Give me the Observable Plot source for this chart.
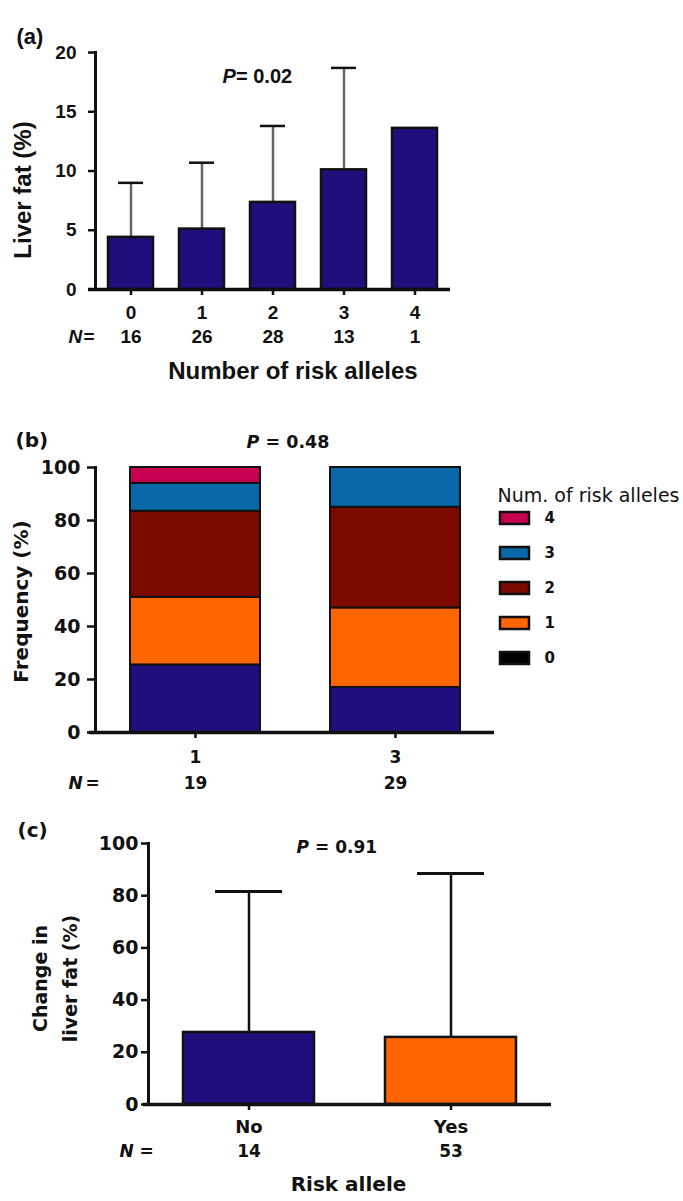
<!DOCTYPE html>
<html>
<head>
<meta charset="utf-8">
<script src="https://cdn.jsdelivr.net/npm/d3@7"></script>
<script src="https://cdn.jsdelivr.net/npm/@observablehq/plot@0.6"></script>
<style>
  body { margin: 0; background: #fff; }
  #wrap { position: relative; width: 683px; height: 1201px; overflow: hidden; background: #fff; }
  #wrap svg { display: block; }
  #legend { position: absolute; left: 490px; top: 470px; }
</style>
</head>
<body>
<div id="wrap"></div>
<script>
// ---------- data ----------
// (a) liver fat by number of risk alleles
const allelesA = ["0", "1", "2", "3", "4"];
const liverFatMean = [4.4, 5.1, 7.35, 10.1, 13.6];
const liverFatSD = [4.6, 5.6, 6.45, 8.6, null];
const nA = [16, 26, 28, 13, 1];
const yTicksA = [0, 5, 10, 15, 20];

// (b) frequency of risk alleles by group
const groupsB = ["1", "3"];
const nB = [19, 29];
const riskCats = ["0", "1", "2", "3", "4"];
const legendOrder = ["4", "3", "2", "1", "0"];
const freqGroup1 = [25.5, 25.5, 32.5, 10.5, 6];
const freqGroup3 = [17, 30, 38, 15, 0];
const yTicksB = [0, 20, 40, 60, 80, 100];

// (c) change in liver fat by risk allele
const groupsC = ["No", "Yes"];
const changeMean = [27.6, 25.7];
const changeSD = [54, 62.8];
const nC = [14, 53];
const yTicksC = [0, 20, 40, 60, 80, 100];

// ---------- styles ----------
const INK = "#111";
const NAVY = "#1e0f7d";
const ORANGE = "#ff6600";
const DARKRED = "#7d0a00";
const BLUE = "#0868a8";
const PINK = "#c70052";
const barColors = [NAVY, ORANGE, DARKRED, BLUE, PINK];
const legendColors = ["#000000", ORANGE, DARKRED, BLUE, PINK];
const ARIAL = "'Liberation Sans', Arial, sans-serif";
const DEJAVU = "'DejaVu Sans', sans-serif";

const wrap = document.getElementById("wrap");

// ---------- panel (a) ----------
const tableA = allelesA.map((k, i) => ({k, mean: liverFatMean[i], sd: liverFatSD[i], n: nA[i]}));
const errA = tableA.filter(d => d.sd != null);

const A = Plot.plot({
  width: 683, height: 390,
  marginLeft: 95, marginRight: 233, marginTop: 52, marginBottom: 101,
  style: {fontFamily: ARIAL, color: INK, background: "white", overflow: "visible"},
  x: {type: "band", domain: allelesA, paddingInner: 0.36, paddingOuter: 0.18},
  y: {domain: [0, 20]},
  marks: [
    Plot.ruleX(errA, {x: "k", y1: "mean", y2: d => d.mean + d.sd, stroke: "#666", strokeWidth: 2.5}),
    Plot.tickY(errA, {x: "k", y: d => d.mean + d.sd, stroke: INK, strokeWidth: 2.5, insetLeft: 10, insetRight: 10}),
    Plot.barY(tableA, {x: "k", y: "mean", fill: NAVY, stroke: INK, strokeWidth: 2.5}),
    Plot.frame({anchor: "left", stroke: INK, strokeWidth: 3}),
    Plot.ruleY([0], {stroke: INK, strokeWidth: 3.5, insetLeft: -7}),
    Plot.axisY({ticks: yTicksA, tickSize: 7, tickPadding: 12, fontSize: 19, fontWeight: "bold", strokeWidth: 2.5, label: null}),
    Plot.axisX({tickSize: 6, tickPadding: 10, fontSize: 19, fontWeight: "bold", strokeWidth: 2.5, label: null}),
    Plot.text(tableA, {x: "k", text: d => String(d.n), frameAnchor: "bottom", dy: 53, fontSize: 19, fontWeight: "bold"}),
    Plot.text(["N"], {frameAnchor: "bottom-left", dx: -27, dy: 53, textAnchor: "start", fontSize: 19, fontWeight: "bold", fontStyle: "italic"}),
    Plot.text(["="], {frameAnchor: "bottom-left", dx: -12, dy: 53, textAnchor: "start", fontSize: 19, fontWeight: "bold"}),
    Plot.text(["Number of risk alleles"], {frameAnchor: "bottom", dx: 20, dy: 89, fontSize: 24, fontWeight: "bold"}),
    Plot.text(["Liver fat (%)"], {frameAnchor: "left", dx: -72, dy: 19, rotate: -90, textAnchor: "middle", fontSize: 24, fontWeight: "bold"}),
    Plot.text(["(a)"], {frameAnchor: "top-left", dx: -79, dy: -24, textAnchor: "start", fontSize: 22, fontWeight: "bold"}),
    Plot.text(["P"], {frameAnchor: "top-left", dx: 127, dy: 16, textAnchor: "start", fontSize: 20, fontWeight: "bold", fontStyle: "italic"}),
    Plot.text(["= 0.02"], {frameAnchor: "top-left", dx: 140.5, dy: 16, textAnchor: "start", fontSize: 20, fontWeight: "bold"})
  ]
});
wrap.appendChild(A);

// ---------- panel (b) ----------
const freqByGroup = {"1": freqGroup1, "3": freqGroup3};
const tableB = [];
groupsB.forEach(g => riskCats.forEach((c, j) => {
  const v = freqByGroup[g][j];
  if (v > 0) tableB.push({g, c, v});
}));
const nTableB = groupsB.map((g, i) => ({g, n: nB[i]}));

const B = Plot.plot({
  width: 683, height: 420,
  marginLeft: 95, marginRight: 189, marginTop: 77, marginBottom: 78,
  style: {fontFamily: DEJAVU, color: INK, background: "white", overflow: "visible"},
  x: {type: "band", domain: groupsB, paddingInner: 0.35, paddingOuter: 0.17},
  y: {domain: [0, 100]},
  color: {domain: riskCats, range: barColors},
  marks: [
    Plot.barY(tableB, {x: "g", y: "v", fill: "c", stroke: INK, strokeWidth: 2}),
    Plot.frame({anchor: "left", stroke: INK, strokeWidth: 3}),
    Plot.ruleY([0], {stroke: INK, strokeWidth: 3.5, insetLeft: -6}),
    Plot.axisY({ticks: yTicksB, tickSize: 8, tickPadding: 7, fontSize: 19, fontWeight: "bold", strokeWidth: 2.5, label: null}),
    Plot.axisX({tickSize: 6, tickPadding: 12, fontSize: 17, fontWeight: "bold", strokeWidth: 2.5, label: null}),
    Plot.text(nTableB, {x: "g", text: d => String(d.n), frameAnchor: "bottom", dy: 56, fontSize: 17, fontWeight: "bold"}),
    Plot.text(["N"], {frameAnchor: "bottom-left", dx: -27, dy: 56, textAnchor: "start", fontSize: 17, fontWeight: "bold", fontStyle: "italic"}),
    Plot.text(["="], {frameAnchor: "bottom-left", dx: -10, dy: 56, textAnchor: "start", fontSize: 17, fontWeight: "bold"}),
    Plot.text(["Frequency (%)"], {frameAnchor: "left", dx: -74, dy: 1.5, rotate: -90, textAnchor: "middle", fontSize: 20, fontWeight: "bold"}),
    Plot.text(["(b)"], {frameAnchor: "top-left", dx: -80, dy: -35, textAnchor: "start", fontSize: 20, fontWeight: "bold"}),
    Plot.text(["P"], {frameAnchor: "top-left", dx: 151, dy: -32, textAnchor: "start", fontSize: 17.5, fontWeight: "bold", fontStyle: "italic"}),
    Plot.text(["= 0.48"], {frameAnchor: "top-left", dx: 170, dy: -32, textAnchor: "start", fontSize: 17.5, fontWeight: "bold"})
  ]
});
wrap.appendChild(B);

// legend for (b)
const legendTable = legendOrder.map(c => ({c}));
const L = Plot.plot({
  width: 193, height: 212,
  margin: 0,
  style: {fontFamily: DEJAVU, color: INK, background: "none", overflow: "visible"},
  x: {type: "band", domain: ["swatch"], range: [10, 39], padding: 0, axis: null},
  y: {type: "band", domain: legendOrder, range: [28.2, 206.8], paddingInner: 0.664, paddingOuter: 0.332, axis: null},
  color: {domain: riskCats, range: legendColors},
  marks: [
    Plot.cell(legendTable, {x: () => "swatch", y: "c", fill: "c", stroke: INK, strokeWidth: 2.5}),
    Plot.text(legendTable, {y: "c", text: "c", frameAnchor: "left", dx: 54, textAnchor: "start", fontSize: 15, fontWeight: "bold"}),
    Plot.text(["Num. of risk alleles"], {frameAnchor: "top-left", dx: 7, dy: 18, textAnchor: "start", fontSize: 19})
  ]
});
L.id = "legend";
wrap.appendChild(L);

// ---------- panel (c) ----------
const tableC = groupsC.map((g, i) => ({g, mean: changeMean[i], sd: changeSD[i], n: nC[i]}));

const C = Plot.plot({
  width: 683, height: 391,
  marginLeft: 148, marginRight: 132, marginTop: 33, marginBottom: 97,
  style: {fontFamily: DEJAVU, color: INK, background: "white", overflow: "visible"},
  x: {type: "band", domain: groupsC, paddingInner: 0.353, paddingOuter: 0.174},
  y: {domain: [0, 100]},
  color: {domain: groupsC, range: [NAVY, ORANGE]},
  marks: [
    Plot.ruleX(tableC, {x: "g", y1: "mean", y2: d => d.mean + d.sd, stroke: INK, strokeWidth: 2.5}),
    Plot.tickY(tableC, {x: "g", y: d => d.mean + d.sd, stroke: INK, strokeWidth: 3, insetLeft: 32, insetRight: 32}),
    Plot.barY(tableC, {x: "g", y: "mean", fill: "g", stroke: INK, strokeWidth: 2.5}),
    Plot.frame({anchor: "left", stroke: INK, strokeWidth: 3}),
    Plot.ruleY([0], {stroke: INK, strokeWidth: 3.5, insetLeft: -5}),
    Plot.axisY({ticks: yTicksC, tickSize: 7, tickPadding: 3, fontSize: 19, fontWeight: "bold", strokeWidth: 2.5, label: null}),
    Plot.axisX({tickSize: 6, tickPadding: 10, fontSize: 18, fontWeight: "bold", strokeWidth: 2.5, label: null}),
    Plot.text(tableC, {x: "g", text: d => String(d.n), frameAnchor: "bottom", dy: 52, fontSize: 17, fontWeight: "bold"}),
    Plot.text(["N"], {frameAnchor: "bottom-left", dx: -29, dy: 52, textAnchor: "start", fontSize: 17, fontWeight: "bold", fontStyle: "italic"}),
    Plot.text(["="], {frameAnchor: "bottom-left", dx: -9, dy: 52, textAnchor: "start", fontSize: 17, fontWeight: "bold"}),
    Plot.text(["Risk allele"], {frameAnchor: "bottom", dx: -1.5, dy: 86, fontSize: 20, fontWeight: "bold"}),
    Plot.text(["Change in\nliver fat (%)"], {frameAnchor: "left", dx: -96, dy: 4.5, rotate: -90, textAnchor: "middle", lineHeight: 1.58, fontSize: 19, fontWeight: "bold"}),
    Plot.text(["(c)"], {frameAnchor: "top-left", dx: -131, dy: -21, textAnchor: "start", fontSize: 20, fontWeight: "bold"}),
    Plot.text(["P"], {frameAnchor: "top-left", dx: 148, dy: -3, textAnchor: "start", fontSize: 17, fontWeight: "bold", fontStyle: "italic"}),
    Plot.text(["= 0.91"], {frameAnchor: "top-left", dx: 166.5, dy: -3, textAnchor: "start", fontSize: 17, fontWeight: "bold"})
  ]
});
wrap.appendChild(C);
</script>
</body>
</html>
